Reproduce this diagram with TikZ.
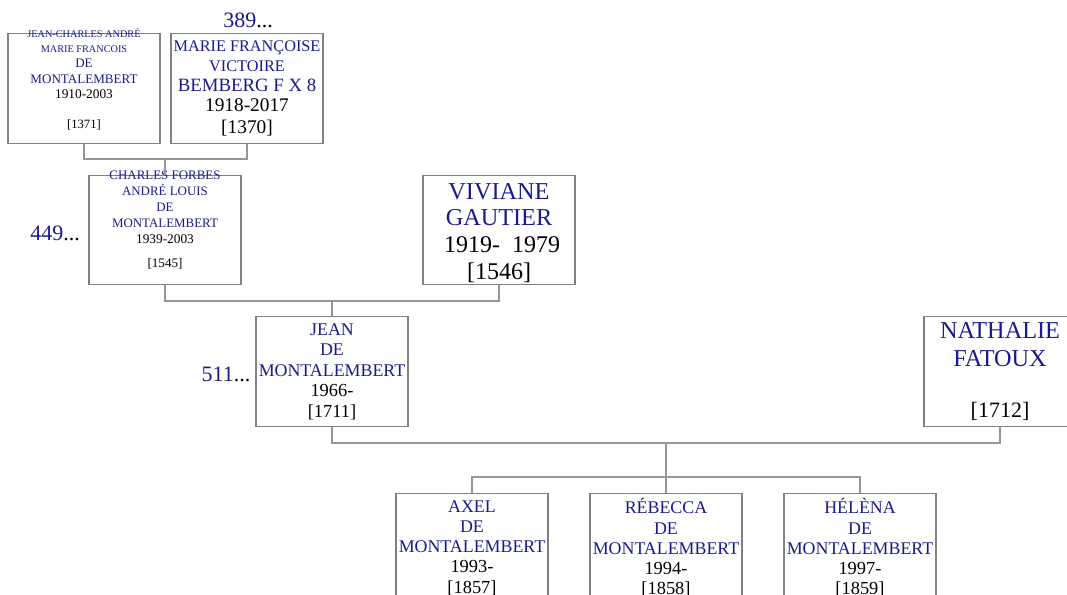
\documentclass[tikz,border=0pt]{standalone}
\usepackage{fontspec}
\setmainfont{Liberation Serif}
\usetikzlibrary{positioning}

% Colours
\definecolor{nameblue}{RGB}{26,26,143}
\definecolor{boxgray}{RGB}{128,128,128}
\definecolor{linkgray}{RGB}{150,150,150}

% name and date lines
\newcommand{\nm}[2]{{\color{nameblue}\fontsize{#1}{#1}\selectfont #2}}
\newcommand{\dt}[2]{{\color{black}\fontsize{#1}{#1}\selectfont #2}}
% lines that stick out of their box
\newcommand{\raisedlines}[2]{\raisebox{#1}[0pt][0pt]{\begin{tabular}{@{}c@{}}#2\end{tabular}}}

\begin{document}
\begin{tikzpicture}[
    x=0.75pt, y=-0.75pt,
    person/.style={draw=boxgray, line width=0.9pt, minimum width=114pt, minimum height=82pt,
        inner sep=0pt, align=center},
    link/.style={draw=linkgray, line width=0.9pt},
    gen/.style={inner sep=0pt, font=\fontsize{16.5}{18}\selectfont}
]
\useasboundingbox (0,0) rectangle (1067,595);

% Grandparents
\node[person, font=\fontsize{7.7}{11.5}\selectfont] (b1371) at (84,88.5)
    {\raisedlines{4.5pt}{\nm{7.7}{JEAN-CHARLES ANDRÉ}\\ \nm{7.7}{MARIE FRANCOIS}\\ \nm{9.8}{DE}\\
     \nm{9.8}{MONTALEMBERT}\\ \dt{10}{1910-2003}\\[11pt] \dt{9.5}{[1371]}}};
\node[person, font=\fontsize{12.2}{15}\selectfont] (b1370) at (247,88.5)
    {\nm{12.2}{MARIE FRANÇOISE}\\ \nm{12.2}{VICTOIRE}\\ \nm{14.1}{BEMBERG F X 8}\\
     \dt{14.5}{1918-2017}\\[2pt] \dt{14.5}{[1370]}};

% Parents
\node[person, font=\fontsize{9.7}{12}\selectfont] (b1545) at (165,230)
    {\raisedlines{4.5pt}{\nm{9.7}{CHARLES FORBES}\\ \nm{9.7}{ANDRÉ LOUIS}\\ \nm{9.7}{DE}\\
     \nm{9.7}{MONTALEMBERT}\\ \dt{10}{1939-2003}\\[6pt] \dt{9.8}{[1545]}}};
\node[person, font=\fontsize{18.2}{20}\selectfont] (b1546) at (499,230)
    {\\[-4pt]\nm{18.2}{VIVIANE}\\ \nm{18.2}{GAUTIER}\\ \dt{18}{\ 1919-\ \ 1979}\\ \dt{18}{[1546]}};

% Couple
\node[person, font=\fontsize{13.4}{15.4}\selectfont] (b1711) at (332,371.5)
    {\nm{13.4}{JEAN}\\ \nm{13.4}{DE}\\ \nm{13.4}{MONTALEMBERT}\\ \dt{13.8}{1966-}\\ \dt{13.8}{[1711]}};
\node[person, font=\fontsize{18.2}{21}\selectfont] (b1712) at (1000,371.5)
    {\nm{18.2}{NATHALIE}\\ \nm{18.2}{FATOUX}\\[17pt] \dt{16.5}{[1712]}};

% Children
\node[person, font=\fontsize{13.4}{15.2}\selectfont] (b1857) at (472,548)
    {\nm{13.4}{AXEL}\\ \nm{13.4}{DE}\\ \nm{13.4}{MONTALEMBERT}\\ \dt{13.8}{1993-}\\ \dt{13.8}{[1857]}};
\node[person, font=\fontsize{13.4}{15.2}\selectfont] (b1858) at (666,548)
    {\nm{13.4}{RÉBECCA}\\ \nm{13.4}{DE}\\ \nm{13.4}{MONTALEMBERT}\\ \dt{13.8}{1994-}\\ \dt{13.8}{[1858]}};
\node[person, font=\fontsize{13.4}{15.2}\selectfont] (b1859) at (860,548)
    {\nm{13.4}{HÉLÈNA}\\ \nm{13.4}{DE}\\ \nm{13.4}{MONTALEMBERT}\\ \dt{13.8}{1997-}\\ \dt{13.8}{[1859]}};

% Generation numbers
\node[gen] (g389) at (248,20) {\nm{16.5}{389}...};
\node[gen] (g449) at (55,233) {\nm{16.5}{449}...};
\node[gen] (g511) at (226,374) {\nm{16.5}{511}...};

% Links
\coordinate (c1) at (165,159);
\coordinate (c2) at (332,301);
\coordinate (c3) at (666,443);
\coordinate (c4) at (666,477);
\draw[link] (b1371.south) |- (c1) -| (b1370.south);
\draw[link] (c1) -- (b1545.north);
\draw[link] (b1545.south) |- (c2) -| (b1546.south);
\draw[link] (c2) -- (b1711.north);
\draw[link] (b1711.south) |- (c3) -| (b1712.south);
\draw[link] (c3) -- (b1858.north);
\draw[link] (b1857.north) |- (c4) -| (b1859.north);

\end{tikzpicture}
\end{document}
